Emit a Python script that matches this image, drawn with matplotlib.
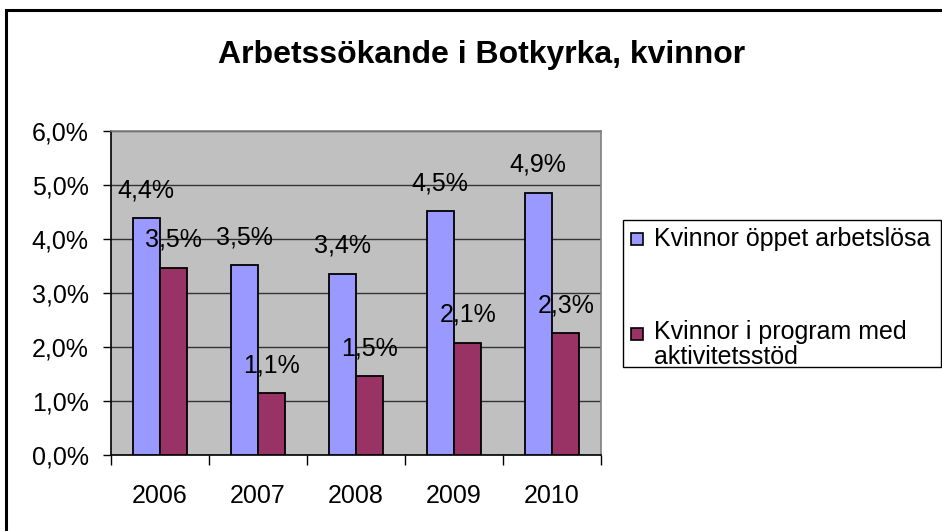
import matplotlib
matplotlib.use("Agg")
import matplotlib.pyplot as plt
from matplotlib.patches import Rectangle
import numpy as np

plt.rcParams['font.family'] = ['Liberation Sans', 'DejaVu Sans']

years = ["2006", "2007", "2008", "2009", "2010"]
oppet = [4.39, 3.51, 3.36, 4.52, 4.86]
program = [3.47, 1.14, 1.46, 2.08, 2.26]
series_names = ["Kvinnor öppet arbetslösa", "Kvinnor i program med", "aktivitetsstöd"]
yticks = [0, 1, 2, 3, 4, 5, 6]
title = "Arbetssökande i Botkyrka, kvinnor"
colors = ["#9999FF", "#993366"]

fig = plt.figure(figsize=(9.42, 5.31), dpi=100)
ax = fig.add_axes([111/942, 1-455/531, 490/942, 324/531])
ax.set_facecolor("#C0C0C0")

x = np.arange(len(years))
w = 0.28
b1 = ax.bar(x - w/2, oppet, w, color=colors[0], edgecolor="black", linewidth=1.3, zorder=3)
b2 = ax.bar(x + w/2, program, w, color=colors[1], edgecolor="black", linewidth=1.3, zorder=3)

fs = 18
for bars, vals in ((b1, oppet), (b2, program)):
    for rect, v in zip(bars, vals):
        ax.annotate(f"{round(v, 1):.1f}%".replace(".", ","),
                    (rect.get_x() + rect.get_width()/2, v),
                    xytext=(0, 20), textcoords="offset points",
                    ha="center", va="center", fontsize=fs, zorder=5)

ax.set_ylim(0, 6)
ax.set_xlim(-0.5, len(years) - 0.5)
ax.set_yticks(yticks)
ax.set_yticklabels([f"{t:.1f}%".replace(".", ",") for t in yticks], fontsize=fs)
ax.yaxis.grid(True, color="#333333", linewidth=1.0, zorder=1)
ax.set_axisbelow(True)
ax.tick_params(axis="y", length=6, width=1, pad=10, direction="out")

ax.set_xticks(x)
ax.set_xticklabels(years, fontsize=fs)
ax.set_xticks(np.arange(-0.5, len(years)), minor=True)
ax.tick_params(axis="x", which="major", length=0, pad=21)
ax.tick_params(axis="x", which="minor", length=7, width=1, direction="out")

for s in ("top", "right"):
    ax.spines[s].set_color("#808080")
    ax.spines[s].set_linewidth(1.2)
for s in ("left", "bottom"):
    ax.spines[s].set_color("black")
    ax.spines[s].set_linewidth(1.2)

fig.text(482/942, 1-55/531, title, ha="center", va="center", fontsize=23, fontweight="bold")

# legend (drawn manually to mimic the spreadsheet layout)
def fy(py):
    return 1 - py/531
fig.patches.append(Rectangle((623/942, fy(367)), 318/942, (367-220)/531, transform=fig.transFigure,
                             facecolor="white", edgecolor="black", linewidth=1.0, zorder=2))
fig.patches.append(Rectangle((631/942, fy(245)), 12/942, 12/531, transform=fig.transFigure,
                             facecolor=colors[0], edgecolor="black", linewidth=1.2, zorder=3))
fig.patches.append(Rectangle((631/942, fy(340)), 12/942, 12/531, transform=fig.transFigure,
                             facecolor=colors[1], edgecolor="black", linewidth=1.2, zorder=3))
fig.text(654/942, fy(239), series_names[0], ha="left", va="center", fontsize=fs, zorder=4)
fig.text(654/942, fy(332), series_names[1], ha="left", va="center", fontsize=fs, zorder=4)
fig.text(654/942, fy(357), series_names[2], ha="left", va="center", fontsize=fs, zorder=4)

fig.patches.append(Rectangle((6/942, -0.1), 1.2, 1-10/531+0.1, transform=fig.transFigure,
                             fill=False, edgecolor="black", linewidth=2.2))

fig.savefig("out.png", dpi=100, facecolor="white")
